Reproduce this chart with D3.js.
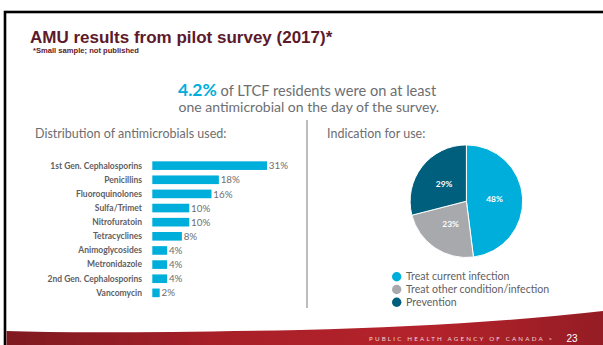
<!DOCTYPE html>
<html>
<head>
<meta charset="utf-8">
<script src="https://cdn.jsdelivr.net/npm/d3@7"></script>
<style>
  html, body { margin: 0; padding: 0; background: #fff; }
  svg { display: block; }
  .sans { font-family: Lato, "Open Sans", sans-serif; }
  .arial { font-family: "Liberation Sans", Arial, sans-serif; }
</style>
</head>
<body>
<svg id="slide" width="603" height="345"></svg>
<script>
// antimicrobial classes and share of use (%)
var drugs = ["1st Gen. Cephalosporins", "Penicillins", "Fluoroquinolones", "Sulfa/Trimet",
  "Nitrofuratoin", "Tetracyclines", "Animoglycosides", "Metronidazole",
  "2nd Gen. Cephalosporins", "Vancomycin"];
var drugShare = [31, 18, 16, 10, 10, 8, 4, 4, 4, 2];

// indication for use (%)
var indications = ["Treat current infection", "Treat other condition/infection", "Prevention"];
var indicationShare = [48, 23, 29];

(function () {
  "use strict";
  var C = {
    title: "#5c1a2b", ink: "#6d6e71", label: "#5f6062",
    cyan: "#00aedb", grey: "#a7a9ac", teal: "#005f7c"
  };
  var svg = d3.select("#slide");

  // slide frame
  svg.append("rect").attr("x", 5).attr("y", 12).attr("width", 600).attr("height", 340)
    .attr("fill", "none").attr("stroke", "#000").attr("stroke-width", 2.6);

  // footer band
  var defs = svg.append("defs");
  var gr = defs.append("linearGradient").attr("id", "band").attr("x1", 0).attr("x2", 1);
  gr.append("stop").attr("offset", "0%").attr("stop-color", "#7e1a20");
  gr.append("stop").attr("offset", "35%").attr("stop-color", "#a81f28");
  gr.append("stop").attr("offset", "70%").attr("stop-color", "#b4232b");
  gr.append("stop").attr("offset", "100%").attr("stop-color", "#951c24");
  svg.append("path")
    .attr("d", "M6.5,331 Q90,334 300,330 Q470,326 603,311 L603,345 L6.5,345 Z")
    .attr("fill", "url(#band)");
  svg.append("text").attr("class", "sans").attr("x", 369).attr("y", 341)
    .style("font-size", "6.2px").style("letter-spacing", "2.2px").attr("fill", "#f1d6d8")
    .text("PUBLIC HEALTH AGENCY OF CANADA >");
  svg.append("text").attr("class", "arial").attr("x", 566.5).attr("y", 341.5)
    .style("font-size", "10px").attr("fill", "#fff").text("23");

  // title
  svg.append("text").attr("class", "arial").attr("x", 30).attr("y", 42.7)
    .style("font-size", "17px").style("font-weight", "700").attr("fill", C.title)
    .text("AMU results from pilot survey (2017)*");
  svg.append("text").attr("class", "arial").attr("x", 33).attr("y", 53.3)
    .style("font-size", "7.6px").style("font-weight", "700").attr("fill", C.title)
    .text("*Small sample; not published");

  // headline
  var h = svg.append("text").attr("class", "sans").attr("x", 178).attr("y", 95.5);
  h.append("tspan").style("font-size", "17.5px").style("font-weight", "700").attr("fill", C.cyan).text("4.2%");
  h.append("tspan").style("font-size", "14.6px").attr("fill", C.ink).text(" of LTCF residents were on at least");
  svg.append("text").attr("class", "sans").attr("x", 178.5).attr("y", 111.5)
    .style("font-size", "14px").attr("fill", C.ink)
    .text("one antimicrobial on the day of the survey.");

  // divider
  svg.append("line").attr("x1", 307).attr("x2", 307).attr("y1", 120).attr("y2", 308)
    .attr("stroke", "#7a7a7a").attr("stroke-width", 1);

  // ---- bars ----
  svg.append("text").attr("class", "sans").attr("x", 35).attr("y", 138)
    .style("font-size", "12.5px").attr("fill", C.ink).text("Distribution of antimicrobials used:");

  var x = d3.scaleLinear().domain([0, 31]).range([152.3, 267]);
  var y = d3.scaleBand().domain(drugs).range([158.5, 300]).paddingInner(0.39).paddingOuter(0.2);
  var gB = svg.append("g");
  drugs.forEach(function (d, i) {
    var yc = y(d) + y.bandwidth() / 2;
    gB.append("rect").attr("x", x(0)).attr("y", y(d))
      .attr("width", x(drugShare[i]) - x(0)).attr("height", y.bandwidth())
      .attr("fill", C.cyan);
    gB.append("text").attr("class", "sans").attr("x", 142).attr("y", yc + 2.9)
      .attr("text-anchor", "end").style("font-size", "8.5px").style("font-weight", "700")
      .attr("fill", C.label).text(d);
    gB.append("text").attr("class", "sans").attr("x", x(drugShare[i]) + 1.8).attr("y", yc + 3.6)
      .style("font-size", "9.8px").attr("fill", C.ink).text(drugShare[i] + "%");
  });

  // ---- pie ----
  svg.append("text").attr("class", "sans").attr("x", 327).attr("y", 137.5)
    .style("font-size", "12.5px").attr("fill", C.ink).text("Indication for use:");

  var colors = d3.scaleOrdinal().domain(indications).range([C.cyan, C.grey, C.teal]);
  var R = 56.3, cx = 466.4, cy = 201.2;
  var pie = d3.pie().sort(null).value(function (d) { return d.v; });
  var arcs = pie(indications.map(function (k, i) { return { k: k, v: indicationShare[i] }; }));
  var arc = d3.arc().innerRadius(0).outerRadius(R);
  var lab = d3.arc().innerRadius(R * 0.5).outerRadius(R * 0.5);
  var gP = svg.append("g").attr("transform", "translate(" + cx + "," + cy + ")");
  gP.selectAll("path").data(arcs).enter().append("path")
    .attr("d", arc).attr("fill", function (d) { return colors(d.data.k); })
    .attr("stroke", "#fff").attr("stroke-width", 1);
  gP.selectAll("text").data(arcs).enter().append("text").attr("class", "sans")
    .attr("transform", function (d) { var c = lab.centroid(d); return "translate(" + c[0] + "," + (c[1] + 3) + ")"; })
    .attr("text-anchor", "middle").style("font-size", "8.4px").style("font-weight", "700")
    .attr("fill", "#fff").text(function (d) { return d.data.v + "%"; });

  // legend
  var ly = d3.scalePoint().domain(indications).range([276.7, 302.3]);
  var gL = svg.append("g");
  indications.forEach(function (k) {
    gL.append("circle").attr("cx", 396.7).attr("cy", ly(k)).attr("r", 4.7).attr("fill", colors(k));
    gL.append("text").attr("class", "sans").attr("x", 406).attr("y", ly(k) + 3.7)
      .style("font-size", "10.6px").attr("fill", C.label).text(k);
  });
})();
</script>
</body>
</html>
